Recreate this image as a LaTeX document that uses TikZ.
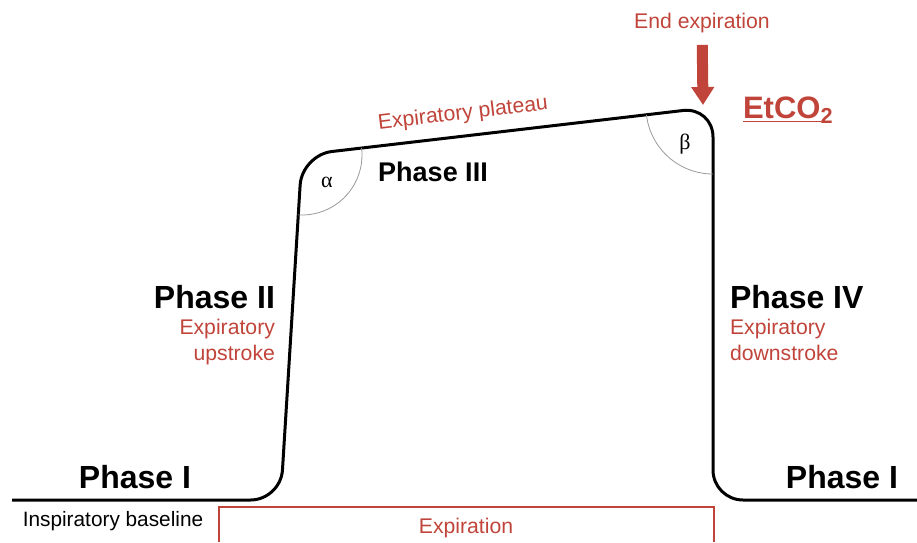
\documentclass[tikz,border=0pt]{standalone}
\usepackage{fontspec}
\setmainfont{Liberation Sans}
\newfontfamily\greekfont{Liberation Serif}
\usetikzlibrary{positioning,arrows.meta}
\definecolor{capred}{RGB}{192,68,58}
\tikzset{phase/.style={font=\bfseries\fontsize{16}{18}\selectfont},
	 phasemid/.style={font=\bfseries\fontsize{13.5}{16}\selectfont},
	 redlab/.style={text=capred,font=\fontsize{10.6}{13}\selectfont},
	 anglab/.style={font=\greekfont\fontsize{11}{12}\selectfont},
	 angarc/.style={draw=gray!80,line width=0.4pt},
	 curve/.style={line width=1.5pt,rounded corners=15pt},
	 node distance = 1
	 }

\begin{document}
\begin{tikzpicture}[x=0.5pt,y=-0.5pt]
	\useasboundingbox (0,0) rectangle (917,542);

	% corners of the capnogram
	\coordinate (b0) at (12,500);
	\coordinate (bl) at (280.6,500);
	\coordinate (tl) at (302,155);
	\coordinate (tr) at (713,107);
	\coordinate (br) at (713,500);
	\coordinate (b1) at (917,500);
	\draw[curve] (b0) -- (bl) -- (tl) -- (tr) -- (br) -- (b1);

	% angles at the plateau
	\draw[angarc] ([shift={(-6.7:60)}]tl) arc (-6.7:93.5:60);
	\draw[angarc] ([shift={(173.3:67)}]tr) arc (173.3:90:67);
	\node[anglab] (alpha) at (327,182) {α};
	\node[anglab] (beta) at (685,144) {β};

	\node[redlab] (endexp) at (702,23) {End expiration};
	\coordinate (tip) at (703,105);
	\draw[capred, line width=5.5pt, -{Triangle[width=11pt,length=9pt]}, shorten <=2.5pt] (endexp) to (tip);
	\node[text=capred, font=\bfseries\fontsize{15.5}{18}\selectfont, anchor=base west] (etco) at (736,118) {\underline{EtCO}\textsubscript{2}};

	\node[redlab, rotate=6.7] (plat) at (463,114) {Expiratory plateau};
	\node[phasemid] (ph3) at (433,172) {Phase III};

	\node[phase, anchor=east] (ph2) at (282,297) {Phase II};
	\node[redlab, align=right] (up) [below left=-2pt and 0pt of ph2.south east] {Expiratory\\upstroke};
	\node[phase, anchor=west] (ph4) at (723,297) {Phase IV};
	\node[redlab, align=left] (down) [below right=-2pt and 0pt of ph4.south west] {Expiratory\\downstroke};

	\node[phase] (ph1a) at (135,477) {Phase I};
	\node[phase] (ph1b) at (842,477) {Phase I};

	\node[font=\fontsize{10.4}{12}\selectfont] (insp) at (113,521) {Inspiratory baseline};
	\coordinate (ex1) at (219,542);
	\coordinate (ex2) at (714,542);
	\draw[capred, line width=1pt] (ex1) |- (714,507) -- (ex2);
	\node[redlab] (exp) at (466,528) {Expiration};
\end{tikzpicture}
\end{document}
